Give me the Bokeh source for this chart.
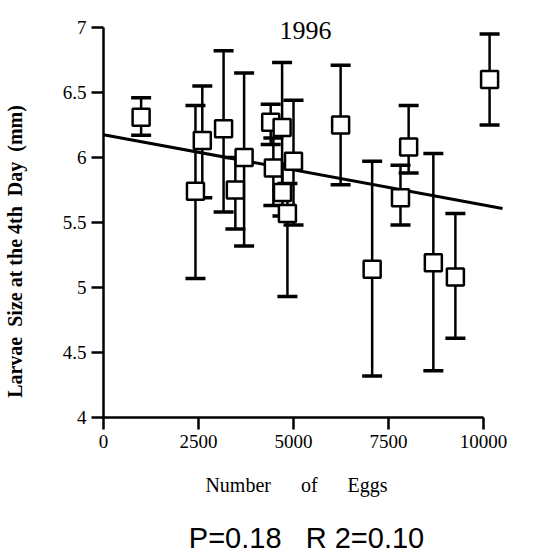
from bokeh.plotting import figure
from bokeh.models import (ColumnDataSource, Whisker, TeeHead, FixedTicker, Label, Range1d, LinearAxis)
from bokeh.embed import file_html
from bokeh.resources import INLINE

# ---- data ----
eggs = [990, 2420, 2600, 3160, 3470, 3700, 4400, 4700, 4470, 4710, 4840, 5000,
        6240, 7070, 7815, 8030, 8680, 9260, 10160]
size_mean = [6.31, 5.74, 6.13, 6.22, 5.75, 6.00, 6.27, 6.23, 5.92, 5.73, 5.57, 5.97,
             6.25, 5.14, 5.69, 6.08, 5.19, 5.08, 6.60]
size_low = [6.17, 5.07, 5.69, 5.58, 5.45, 5.32, 6.10, 5.75, 5.63, 5.55, 4.93, 5.48,
            5.79, 4.32, 5.48, 5.88, 4.36, 4.61, 6.25]
size_high = [6.46, 6.40, 6.55, 6.82, 6.00, 6.65, 6.41, 6.73, 6.15, 5.95, 5.80, 6.44,
             6.71, 5.97, 5.94, 6.40, 6.03, 5.57, 6.95]

fit_intercept = 6.175
fit_slope = -5.4e-5
fit_x = [0, 10500]

x_ticks = [0, 2500, 5000, 7500, 10000]
x_tick_labels = ["0", "2500", "5000", "7500", "10000"]
y_ticks = [4, 4.5, 5, 5.5, 6, 6.5, 7]
y_tick_labels = ["4", "4.5", "5", "5.5", "6", "6.5", "7"]

title_text = "1996"
NB = "\u00a0"
x_label = "Number" + NB * 6 + "of" + NB * 6 + "Eggs"
y_label = "Larvae" + NB * 2 + "Size at the 4th" + NB * 2 + "Day" + NB * 2 + "(mm)"
stats_text = "P=0.18" + NB * 3 + "R 2=0.10"

SERIF = "Liberation Serif"

src = ColumnDataSource(dict(x=eggs, y=size_mean, lo=size_low, hi=size_high))
fit_src = ColumnDataSource(dict(x=fit_x, y=[fit_intercept + fit_slope * v for v in fit_x]))

p = figure(width=544, height=556, output_backend="svg", toolbar_location=None,
           x_range=Range1d(0, 10684), y_range=Range1d(4, 7.092),
           min_border_left=103, min_border_right=35, min_border_top=15, min_border_bottom=0)
p.outline_line_color = None
p.grid.visible = False
p.background_fill_color = "white"
p.border_fill_color = "white"

# regression line
p.line("x", "y", source=fit_src, line_color="black", line_width=3)

# error bars
w = Whisker(source=src, base="x", lower="lo", upper="hi", line_color="black", line_width=2.5,
            upper_head=TeeHead(size=20, line_width=3.5, line_color="black"),
            lower_head=TeeHead(size=20, line_width=3.5, line_color="black"))
p.add_layout(w)

# markers
p.scatter("x", "y", source=src, marker="square", size=17, fill_color="white",
          line_color="black", line_width=2.5)

# axes
for ax in (p.xaxis[0], p.yaxis[0]):
    ax.axis_line_width = 2.5
    ax.axis_line_color = "black"
    ax.major_tick_line_width = 2.5
    ax.major_tick_line_color = "black"
    ax.major_tick_out = 12
    ax.major_tick_in = 0
    ax.minor_tick_line_color = None
    ax.major_label_text_font = SERIF
    ax.major_label_text_font_size = "19px"
    ax.major_label_text_color = "black"
    ax.axis_label_text_font = SERIF
    ax.axis_label_text_font_style = "normal"
    ax.axis_label_text_color = "black"

p.xaxis[0].bounds = (0, 10000)
p.xaxis[0].ticker = FixedTicker(ticks=x_ticks)
p.xaxis[0].major_label_overrides = {t: l for t, l in zip(x_ticks, x_tick_labels)}
p.xaxis[0].major_label_standoff = 5
p.xaxis[0].axis_label = x_label + NB * 4
p.xaxis[0].axis_label_text_font_size = "20px"
p.xaxis[0].axis_label_standoff = 23

p.yaxis[0].bounds = (4, 7)
p.yaxis[0].ticker = FixedTicker(ticks=y_ticks)
p.yaxis[0].major_label_overrides = {t: l for t, l in zip(y_ticks, y_tick_labels)}
p.yaxis[0].major_label_standoff = 5
p.yaxis[0].axis_label = y_label + NB * 14
p.yaxis[0].axis_label_text_font_size = "20px"
p.yaxis[0].axis_label_text_font_style = "bold"
p.yaxis[0].axis_label_standoff = 34

# statistics line as a second, bare axis below
stats_axis = LinearAxis(ticker=FixedTicker(ticks=[]), axis_line_color=None,
                        major_tick_out=0, major_tick_in=0, minor_tick_out=0, minor_tick_in=0,
                        major_label_standoff=0, axis_label=stats_text,
                        axis_label_text_font="Liberation Sans", axis_label_text_font_size="29px",
                        axis_label_text_font_style="normal", axis_label_text_color="black",
                        axis_label_standoff=23)
p.add_layout(stats_axis, "below")

# title inside plot
p.add_layout(Label(x=5316, y=6.977, text=title_text, text_font=SERIF, text_font_size="26px",
                   text_align="center", text_baseline="middle", text_color="black"))

open("out.html", "w").write(file_html(p, INLINE))
